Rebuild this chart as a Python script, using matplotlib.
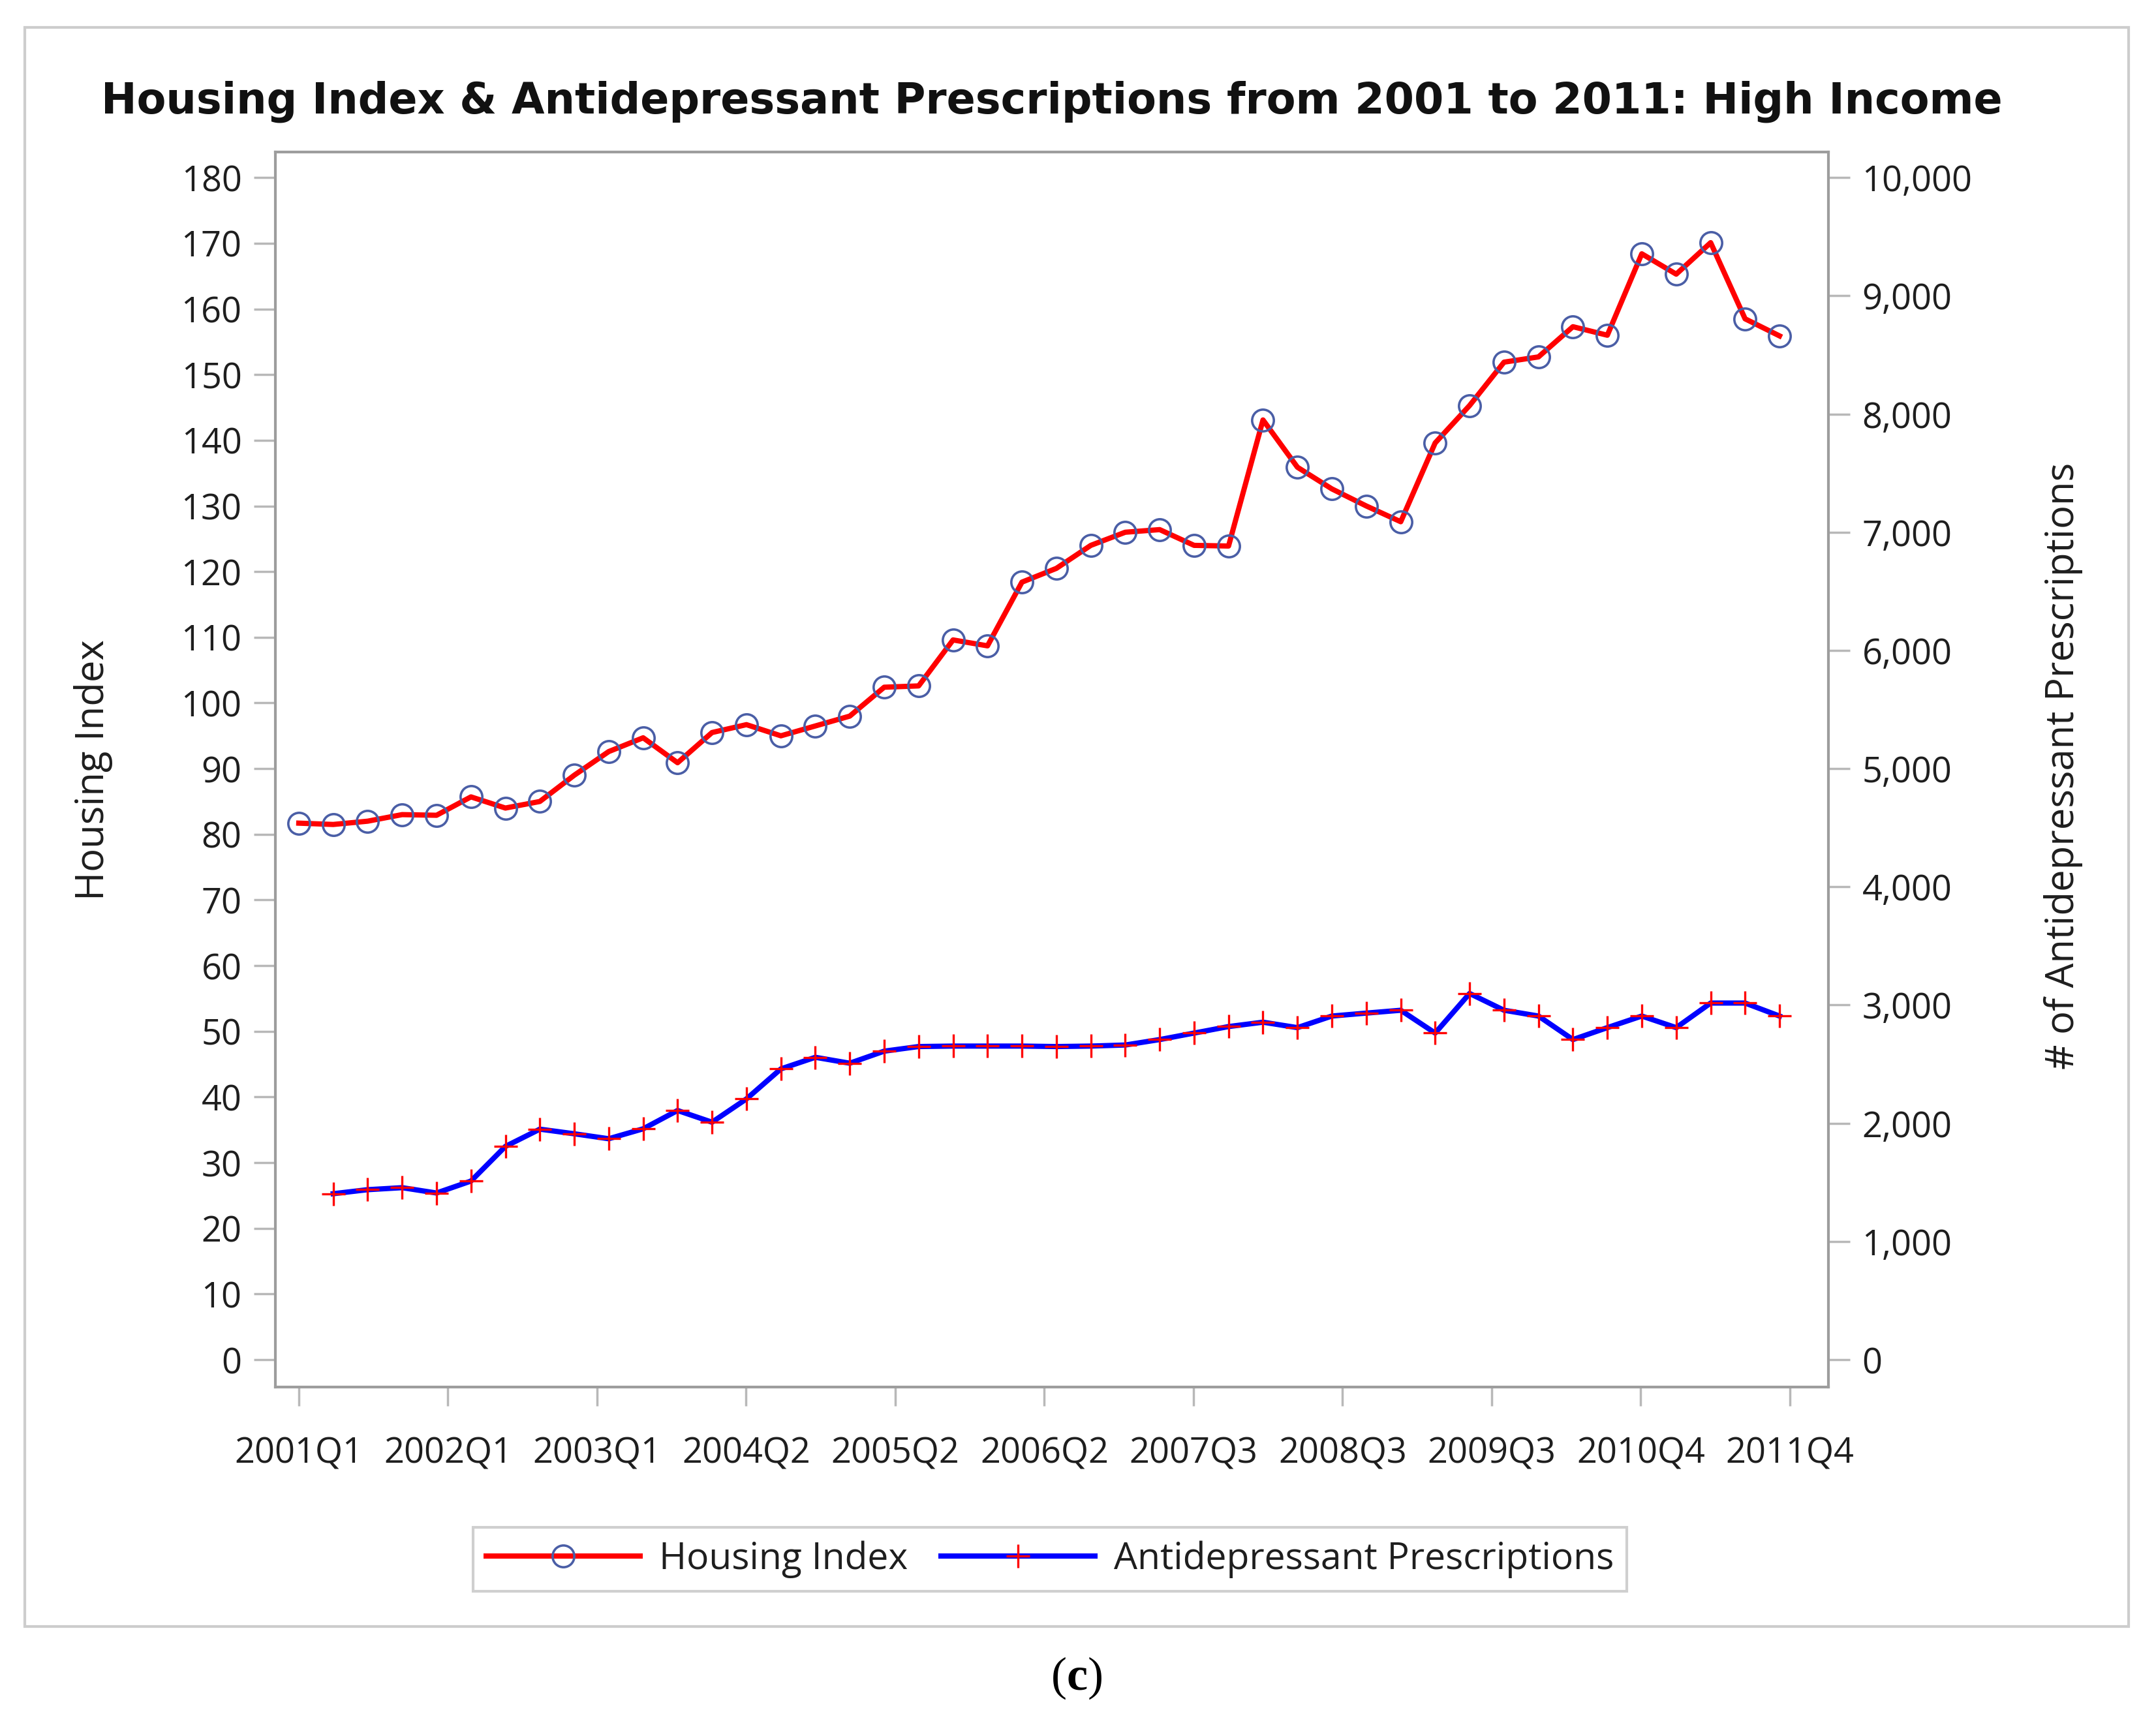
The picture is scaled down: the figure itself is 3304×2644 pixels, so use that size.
import numpy as np
import matplotlib.pyplot as plt
from matplotlib.patches import Rectangle
from matplotlib.ticker import FuncFormatter

plt.rcParams['font.family'] = ['Open Sans', 'DejaVu Sans']
plt.rcParams['mathtext.fontset'] = 'custom'
plt.rcParams['mathtext.bf'] = 'Liberation Serif:bold'

# quarterly values, 2001Q1 .. 2011Q4 (44 quarters)
housing = [81.7, 81.5, 82.0, 83.0, 82.9, 85.7, 84.0, 85.0, 89.0, 92.6,
           94.7, 90.9, 95.5, 96.7, 95.0, 96.5, 98.0, 102.4, 102.6, 109.6,
           108.7, 118.4, 120.5, 124.0, 126.0, 126.4, 124.0, 123.9, 143.1, 135.9,
           132.6, 130.0, 127.6, 139.6, 145.3, 151.9, 152.7, 157.3, 156.0, 168.4,
           165.3, 170.1, 158.5, 155.9]

# prescriptions start at 2001Q2
prescriptions = [1404, 1438, 1455, 1410, 1511, 1804, 1950, 1911, 1869, 1953,
                 2108, 2009, 2206, 2460, 2558, 2508, 2610, 2649, 2653, 2653,
                 2653, 2649, 2653, 2662, 2708, 2763, 2818, 2855, 2809, 2907,
                 2932, 2956, 2763, 3098, 2956, 2907, 2708, 2809, 2907, 2809,
                 3017, 3017, 2907]

tick_labels = ['2001Q1', '2002Q1', '2003Q1', '2004Q2', '2005Q2', '2006Q2',
               '2007Q3', '2008Q3', '2009Q3', '2010Q4', '2011Q4']

x_h = np.arange(len(housing))
x_p = np.arange(1, len(prescriptions) + 1)

W, H = 3304, 2644
fig = plt.figure(figsize=(W / 100, H / 100), dpi=100)

# axes box in pixels
left, right, top, bottom = 422, 2802, 233, 2126
ax = fig.add_axes([left / W, 1 - bottom / H, (right - left) / W, (bottom - top) / H])
ax2 = ax.twinx()

spine_col = '#9d9d9d'
tick_col = '#b8b8b8'
txt_col = '#1e1e1e'

l1, = ax.plot(x_h, housing, color='#ff0000', lw=5.8, marker='o', ms=24,
              mfc='none', mec='#4a5ea6', mew=2.6, zorder=3)
l2, = ax2.plot(x_p, prescriptions, color='#0000ff', lw=5.8, marker='+', ms=26,
               mec='#ff0000', mew=2.4, zorder=3)

ylo, yhi = -4.17, 183.9
ax.set_ylim(ylo, yhi)
ax2.set_ylim(ylo * 10000 / 180, yhi * 10000 / 180)

# time axis ticks are evenly spaced, slightly past the last quarter
tick_end = 43.3
ax.set_xlim(-0.68, tick_end + 1.12)

ax.set_yticks(np.arange(0, 181, 10))
ax2.set_yticks(np.arange(0, 10001, 1000))
ax2.yaxis.set_major_formatter(FuncFormatter(lambda v, p: '{:,.0f}'.format(v)))
ax.set_xticks(np.linspace(0, tick_end, len(tick_labels)))
ax.set_xticklabels(tick_labels)

for a in (ax, ax2):
    for s in a.spines.values():
        s.set_color(spine_col)
        s.set_linewidth(3)
ax.spines['right'].set_visible(False)
for s in ['top', 'bottom', 'left']:
    ax2.spines[s].set_visible(False)

ax.tick_params(axis='y', length=24, width=2.5, color=tick_col, pad=13,
               labelsize=39, labelcolor=txt_col)
ax2.tick_params(axis='y', length=24, width=2.5, color=tick_col, pad=13,
                labelsize=39, labelcolor=txt_col)
ax.tick_params(axis='x', length=21, width=2.5, color=tick_col, pad=33,
               labelsize=39, labelcolor=txt_col)

fig.text(143 / W, 1 - 1180 / H, 'Housing Index', rotation=90, ha='center',
         va='center', fontsize=43, color=txt_col)
fig.text(3162 / W, 1 - 1174 / H, '# of Antidepressant Prescriptions', rotation=90,
         ha='center', va='center', fontsize=43, color=txt_col)

fig.text(1612 / W, 1 - 156 / H,
         'Housing Index & Antidepressant Prescriptions from 2001 to 2011: High Income',
         ha='center', va='center', fontsize=47, fontweight='bold',
         family='DejaVu Sans', color='#111111')

leg = fig.legend([l1, l2], ['Housing Index', 'Antidepressant Prescriptions'],
                 loc='center', bbox_to_anchor=(1609 / W, 1 - 2390 / H), ncol=2,
                 fontsize=41, handlelength=4.15, handletextpad=0.5,
                 columnspacing=0.9, borderpad=0.35, fancybox=False,
                 edgecolor='#cfcfcf', framealpha=1)
leg.get_frame().set_linewidth(3)
for t in leg.get_texts():
    t.set_color(txt_col)

# outer panel frame
fig.patches.append(Rectangle((38 / W, 1 - 2493 / H), (3262 - 38) / W, (2493 - 42) / H,
                             transform=fig.transFigure, fill=False,
                             edgecolor='#cdcdcd', linewidth=3))

fig.text(1650 / W, 1 - 2572 / H, r'($\mathbf{c}$)', ha='center', va='center',
         fontsize=52, family='Liberation Serif', color='black')

fig.savefig('out.png', dpi=100)
